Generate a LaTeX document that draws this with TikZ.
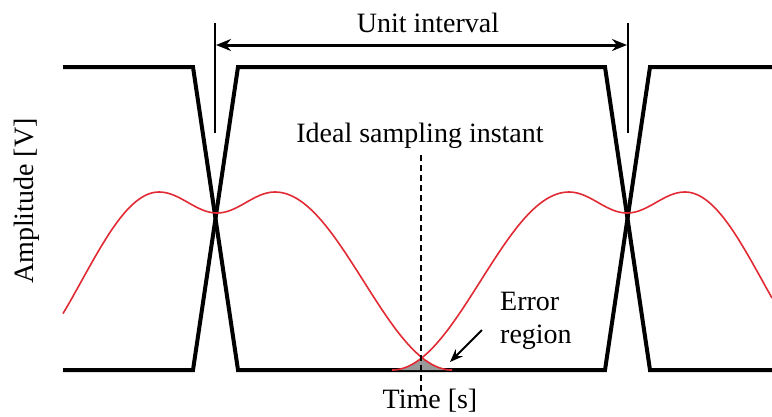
\documentclass[tikz,border=0pt]{standalone}
\usepackage{fontspec}
\setmainfont{Liberation Serif}
\usetikzlibrary{arrows.meta}
\definecolor{eyered}{RGB}{226,42,52}
\begin{document}
\begin{tikzpicture}[x=1pt,y=-1pt,
  sig/.style={line width=4pt, line join=miter},
  redc/.style={eyered, line width=1.6pt},
  marker/.style={line width=1.6pt},
  lbl/.style={font=\fontsize{28}{33}\selectfont, inner sep=0pt},
  dimarrow/.style={line width=3pt, {Stealth[length=15pt,width=12pt]}-{Stealth[length=15pt,width=12pt]}},
  errarrow/.style={line width=2pt, -{Stealth[length=13pt,width=10pt]}}]
\useasboundingbox (0,0) rectangle (772,416);

% black signals
\draw[sig] (63,67) -- (193,67) -- (238,370) -- (605,370) -- (650,67) -- (772,67);
\draw[sig] (63,370) -- (193,370) -- (238,67) -- (605,67) -- (650,370) -- (772,370);

% error region fill
\fill[gray!80] plot[domain=392:422,samples=20] (\x,{192+89*(1-cos((569-\x)/177*180))})
  -- plot[domain=422:452,samples=20] (\x,{192+89*(1-cos((\x-275)/177*180))}) -- cycle;

% red eye curve
\draw[redc] plot[domain=63:159,samples=40] (\x,{192+89*(1-cos((159-\x)/155*180))})
  -- plot[domain=159:275,samples=50] (\x,{202.5-10.5*cos((\x-159)/116*360)})
  -- plot[domain=275:452,samples=70] (\x,{192+89*(1-cos((\x-275)/177*180))});
\draw[redc] plot[domain=392:569,samples=70] (\x,{192+89*(1-cos((569-\x)/177*180))})
  -- plot[domain=569:685,samples=50] (\x,{202.5-10.5*cos((\x-569)/116*360)})
  -- plot[domain=685:772,samples=40] (\x,{192+89*(1-cos((\x-685)/155*180))});

% unit interval markers
\coordinate (m1t) at (215,23);
\coordinate (m1b) at (215,133);
\coordinate (m2t) at (628,23);
\coordinate (m2b) at (628,133);
\draw[marker] (m1t) -- (m1b);
\draw[marker] (m2t) -- (m2b);
\coordinate (a1) at (216,45);
\coordinate (a2) at (627,45);
\draw[dimarrow] (a1) -- (a2);

% ideal sampling instant
\coordinate (st) at (421,155);
\coordinate (sb) at (421,392);
\draw[marker, dash pattern=on 6pt off 4pt] (st) -- (sb);

% labels
\node[lbl, anchor=base] (ui) at (428,32) {Unit interval};
\node[lbl, anchor=base] (isi) at (420,142) {Ideal sampling instant};
\node[lbl, anchor=base] (time) at (430,408) {Time [s]};
\node[lbl, anchor=base, rotate=90] (amp) at (33,201) {Amplitude [V]};
\node[lbl, anchor=base west] (err) at (500,310) {Error};
\node[lbl, anchor=base west] (reg) at (500,343) {region};

\coordinate (ea) at (482,330);
\coordinate (eb) at (450,362);
\draw[errarrow] (ea) -- (eb);
\end{tikzpicture}
\end{document}
